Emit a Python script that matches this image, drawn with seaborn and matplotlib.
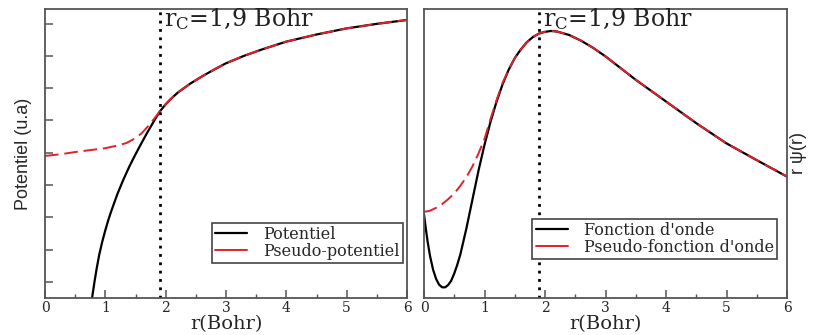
import numpy as np
import pandas as pd
import matplotlib
matplotlib.use("Agg")
import matplotlib.pyplot as plt
import seaborn as sns
from matplotlib.ticker import MultipleLocator

sns.set_theme(style="white")
plt.rcParams["font.family"] = ["DejaVu Serif"]
plt.rcParams["mathtext.fontset"] = "dejavuserif"

# ---------------- data ----------------
rc = 1.9
xticks = [0, 1, 2, 3, 4, 5, 6]

# Left panel: potential (arbitrary units)
r_pot = [0.78, 0.82, 0.86, 0.9, 0.95, 1.0, 1.05, 1.1, 1.2, 1.3, 1.4, 1.5, 1.6,
         1.7, 1.8, 1.9, 2.0, 2.1, 2.2, 2.4, 2.6, 2.8, 3.0, 3.3, 3.6, 4.0, 4.5,
         5.0, 5.5, 6.0]
v_pot = [-0.5, 0.0, 0.45, 0.85, 1.25, 1.6, 1.92, 2.2, 2.72, 3.17, 3.58, 3.95,
         4.3, 4.64, 4.96, 5.27, 5.5, 5.69, 5.86, 6.13, 6.36, 6.57, 6.77, 7.0,
         7.2, 7.44, 7.66, 7.85, 7.99, 8.11]
r_pseudo_core = [0.0, 0.25, 0.5, 0.75, 1.0, 1.2, 1.35, 1.5, 1.6, 1.7, 1.8]
v_pseudo_core = [3.9, 3.95, 4.02, 4.08, 4.14, 4.22, 4.3, 4.45, 4.6, 4.8, 5.03]

# Right panel: r*psi(r) (arbitrary units)
r_wf = [0.0, 0.03, 0.06, 0.1, 0.15, 0.2, 0.25, 0.3, 0.35, 0.4, 0.45, 0.5, 0.55,
        0.6, 0.7, 0.8, 0.9, 1.0, 1.1, 1.2, 1.3, 1.4, 1.5, 1.6, 1.7, 1.8, 1.9,
        2.0, 2.1, 2.2, 2.4, 2.6, 2.8, 3.0, 3.5, 4.0, 4.5, 5.0, 5.5, 6.0]
psi_wf = [0.29, 0.24, 0.195, 0.145, 0.098, 0.066, 0.046, 0.037, 0.037, 0.045,
          0.06, 0.085, 0.115, 0.15, 0.24, 0.34, 0.44, 0.53, 0.61, 0.68, 0.74,
          0.79, 0.83, 0.86, 0.885, 0.903, 0.915, 0.921, 0.924, 0.922, 0.91,
          0.89, 0.865, 0.836, 0.755, 0.68, 0.605, 0.535, 0.477, 0.42]
r_pswf_core = [0.0, 0.1, 0.2, 0.3, 0.4, 0.5, 0.6, 0.7, 0.8, 0.9, 1.0, 1.1, 1.2, 1.3]
psi_pswf_core = [0.298, 0.302, 0.312, 0.325, 0.342, 0.362, 0.388, 0.418, 0.455,
                 0.50, 0.55, 0.62, 0.685, 0.745]

# pseudo curves coincide with the all-electron ones beyond the matching radius
pot = pd.DataFrame({"r": r_pot, "v": v_pot})
pseudo = pd.concat([pd.DataFrame({"r": r_pseudo_core, "v": v_pseudo_core}),
                    pot[pot.r >= 1.9]], ignore_index=True)
wf = pd.DataFrame({"r": r_wf, "v": psi_wf})
pswf = pd.concat([pd.DataFrame({"r": r_pswf_core, "v": psi_pswf_core}),
                  wf[wf.r >= 1.4]], ignore_index=True)

# ---------------- figure ----------------
fig = plt.figure(figsize=(8.17, 3.35), dpi=100)
axL = fig.add_axes([45 / 817, 37 / 335, 362 / 817, 289 / 335])
axR = fig.add_axes([424 / 817, 37 / 335, 363 / 817, 289 / 335])

spine_col = "#555555"
red = "#e0202a"


def style(ax):
    for s in ax.spines.values():
        s.set_color(spine_col)
        s.set_linewidth(1.3)
    ax.set_xlim(0, 6)
    ax.set_xticks(xticks)
    ax.set_xticklabels([str(t) for t in xticks], fontsize=10, family="DejaVu Serif")
    ax.xaxis.set_minor_locator(MultipleLocator(0.5))
    ax.tick_params(axis="x", which="major", direction="in", length=6, width=1.1,
                   color=spine_col, bottom=True, top=False, pad=2)
    ax.tick_params(axis="x", which="minor", direction="in", length=3, width=1.0,
                   color=spine_col, bottom=True, top=False)
    ax.set_xlabel("r(Bohr)", fontsize=14, family="DejaVu Serif", labelpad=0)
    ax.axvline(rc, color="black", linestyle=(0, (1, 2)), linewidth=2)
    ax.text(1.97, 0.94, r"$\mathregular{r_C}$=1,9 Bohr", transform=ax.get_xaxis_transform(),
            fontsize=17, va="baseline", ha="left", family="DejaVu Serif", color="#222222")


# Left panel
sns.lineplot(data=pot, x="r", y="v", ax=axL, color="black", linewidth=1.6,
             label="Potentiel", sort=False)
sns.lineplot(data=pseudo, x="r", y="v", ax=axL, color=red, linewidth=1.4,
             label="Pseudo-potentiel", sort=False)
axL.lines[-1].set_linestyle((0, (7, 3)))
axL.set_ylim(-0.5, 8.45)
axL.set_yticks(range(0, 9))
axL.set_yticklabels([])
axL.tick_params(axis="y", which="major", direction="in", length=6, width=1.1,
                color=spine_col, left=True, right=False)
style(axL)
axL.set_ylabel("Potentiel (u.a)", fontsize=13, family="Liberation Sans", labelpad=6)

# Right panel
sns.lineplot(data=wf, x="r", y="v", ax=axR, color="black", linewidth=1.6,
             label="Fonction d'onde", sort=False)
sns.lineplot(data=pswf, x="r", y="v", ax=axR, color=red, linewidth=1.4,
             label="Pseudo-fonction d'onde", sort=False)
axR.lines[-1].set_linestyle((0, (7, 3)))
axR.set_ylim(0, 1)
axR.set_yticks([])
style(axR)
axR.yaxis.set_label_position("right")
axR.set_ylabel("r ψ(r)", fontsize=13, family="Liberation Sans", labelpad=2)

for ax, anchor in ((axL, (0.989, 0.121)), (axR, (0.972, 0.135))):
    leg = ax.legend(loc="lower right", bbox_to_anchor=anchor,
                    frameon=True, fancybox=False, framealpha=1, borderpad=0.2,
                    labelspacing=0.0, handlelength=2.0, handletextpad=1.0,
                    borderaxespad=0, prop={"family": "DejaVu Serif", "size": 11.5})
    leg.get_frame().set_edgecolor("#444444")
    leg.get_frame().set_linewidth(1.2)
    for h in leg.get_lines():
        h.set_linestyle("-")

fig.savefig("out.png", dpi=100)
